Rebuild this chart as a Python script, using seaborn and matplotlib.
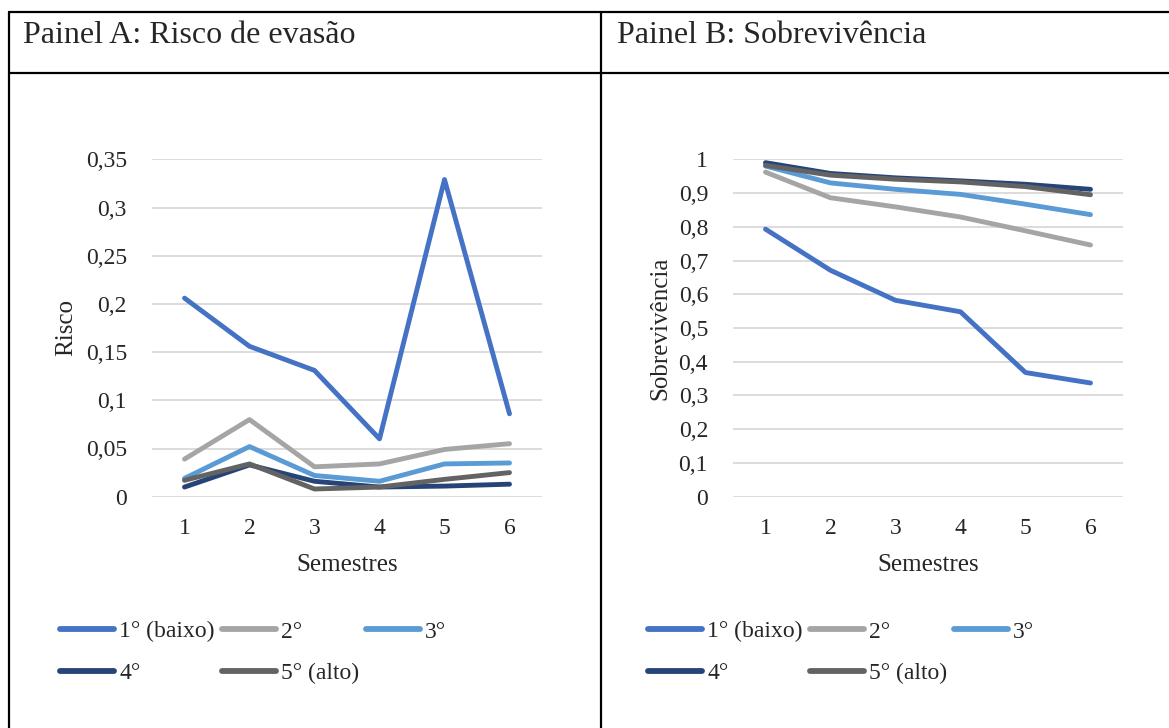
import numpy as np
import pandas as pd
import matplotlib
matplotlib.use("Agg")
import matplotlib.pyplot as plt
import seaborn as sns
from matplotlib.lines import Line2D
from matplotlib.ticker import FuncFormatter, MultipleLocator

sns.set_theme(style="white")
plt.rcParams["font.family"] = ["Liberation Serif", "DejaVu Serif"]

# Dados
semestres = [1, 2, 3, 4, 5, 6]
grupos = ["1° (baixo)", "2°", "3°", "4°", "5° (alto)"]
cores = ["#4472C4", "#A5A5A5", "#5B9BD5", "#264478", "#636363"]

risco_1 = [0.206, 0.156, 0.131, 0.060, 0.329, 0.086]
risco_2 = [0.039, 0.080, 0.031, 0.034, 0.049, 0.055]
risco_3 = [0.019, 0.052, 0.022, 0.016, 0.034, 0.035]
risco_4 = [0.010, 0.033, 0.016, 0.010, 0.011, 0.013]
risco_5 = [0.017, 0.034, 0.008, 0.010, 0.018, 0.025]

sobrev_1 = [0.793, 0.671, 0.582, 0.548, 0.368, 0.337]
sobrev_2 = [0.962, 0.886, 0.859, 0.829, 0.788, 0.746]
sobrev_3 = [0.980, 0.930, 0.911, 0.896, 0.867, 0.836]
sobrev_4 = [0.990, 0.958, 0.945, 0.936, 0.926, 0.911]
sobrev_5 = [0.982, 0.953, 0.941, 0.933, 0.919, 0.895]


def longo(series, nome):
    linhas = []
    for g, vals in zip(grupos, series):
        for s, v in zip(semestres, vals):
            linhas.append({"Semestre": s, "Grupo": g, nome: v})
    return pd.DataFrame(linhas)


df_a = longo([risco_1, risco_2, risco_3, risco_4, risco_5], "Risco")
df_b = longo([sobrev_1, sobrev_2, sobrev_3, sobrev_4, sobrev_5], "Sobrevivência")

W, H = 1169, 728
fig = plt.figure(figsize=(W / 100, H / 100), dpi=100)

virgula = FuncFormatter(lambda v, p: ("%g" % round(v, 4)).replace(".", ","))

paineis = [
    (df_a, "Risco", 152, 0.35, 0.05, -0.192, 60),
    (df_b, "Sobrevivência", 733, 1.0, 0.1, -0.159, 648),
]

for df, col, x0, ymax, passo, ylab_x, leg_x in paineis:
    ax = fig.add_axes([x0 / W, 1 - 496.7 / H, 390 / W, 337.4 / H])
    sns.lineplot(data=df, x="Semestre", y=col, hue="Grupo", hue_order=grupos,
                 palette=cores, linewidth=3.5, ax=ax,
                 solid_capstyle="round", solid_joinstyle="round")
    for ln in ax.get_lines():
        ln.set_clip_on(False)
    handles, labels = ax.get_legend_handles_labels()
    ax.get_legend().remove()

    ax.set_xlim(0.5, 6.5)
    ax.set_ylim(0, ymax)
    ax.set_xticks(semestres)
    ax.yaxis.set_major_locator(MultipleLocator(passo))
    ax.yaxis.set_major_formatter(virgula)
    ax.tick_params(axis="both", labelsize=17, length=0)
    ax.tick_params(axis="y", pad=18)
    ax.tick_params(axis="x", pad=15)
    ax.yaxis.grid(True, color="#D9D9D9", linewidth=1.3)
    ax.xaxis.grid(False)
    ax.set_axisbelow(True)
    sns.despine(ax=ax, left=True, bottom=True)

    ax.set_xlabel("Semestres", fontsize=18)
    ax.xaxis.set_label_coords(0.5, -0.17)
    ax.set_ylabel(col, fontsize=18)
    ax.yaxis.set_label_coords(ylab_x, 0.5)

    ordem = [0, 3, 1, 4, 2]
    leg = fig.legend([handles[i] for i in ordem], [labels[i] for i in ordem],
                     loc="upper left", bbox_to_anchor=(leg_x / W, 1 - 621 / H),
                     ncol=3, frameon=False, fontsize=17, handlelength=2.3,
                     handletextpad=0.2, columnspacing=0.3, labelspacing=0.85,
                     borderpad=0, borderaxespad=0)
    for h in leg.get_lines():
        h.set_linewidth(4.2)
        h.set_solid_capstyle("round")

# Moldura da tabela
def linha(x, y):
    fig.add_artist(Line2D([v / W for v in x], [1 - v / H for v in y],
                          color="black", linewidth=1.6))

linha([9, W], [12, 12])
linha([9, W], [73, 73])
linha([9, 9], [12, H])
linha([601, 601], [12, H])

fig.text(23 / W, 1 - 43 / H, "Painel A: Risco de evasão", fontsize=23, va="baseline")
fig.text(617 / W, 1 - 43 / H, "Painel B: Sobrevivência", fontsize=23, va="baseline")

fig.savefig("out.png", dpi=100)
